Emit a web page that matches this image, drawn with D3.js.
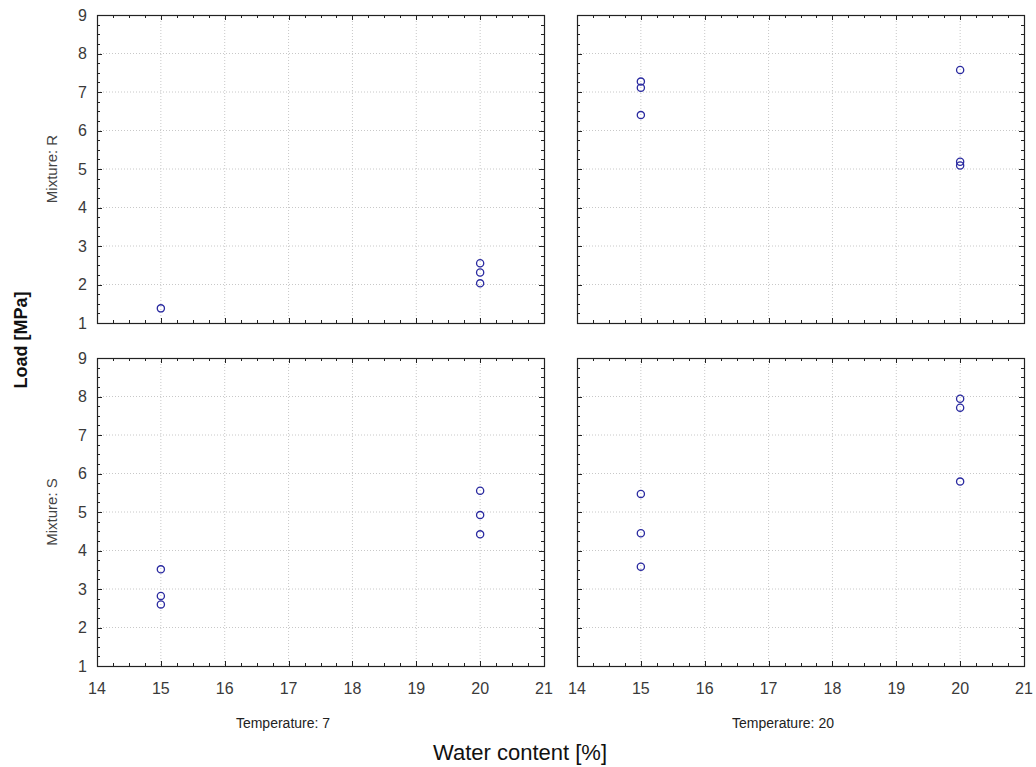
<!DOCTYPE html>
<html>
<head>
<meta charset="utf-8">
<script src="https://cdn.jsdelivr.net/npm/d3@7"></script>
<style>
  body { margin: 0; background: #fff; }
  svg text { font-family: "Liberation Sans", Arial, sans-serif; }
  .grid line { stroke: #c8c8c8; stroke-dasharray: 1,2; }
</style>
</head>
<body>
<div id="main"></div>
<script>
// panel facets
const mixtures = ["R", "S"];
const temperatures = [7, 20];

// load [MPa] per panel, keyed by mixture + temperature
const waterR7 = [15, 20, 20, 20];
const loadR7 = [1.38, 2.55, 2.31, 2.03];
const waterR20 = [15, 15, 15, 20, 20, 20];
const loadR20 = [7.27, 7.11, 6.40, 7.57, 5.19, 5.09];
const waterS7 = [15, 15, 15, 20, 20, 20];
const loadS7 = [3.51, 2.82, 2.60, 5.55, 4.92, 4.42];
const waterS20 = [15, 15, 15, 20, 20, 20];
const loadS20 = [5.47, 4.45, 3.58, 7.94, 7.71, 5.79];

const xTicks = [14, 15, 16, 17, 18, 19, 20, 21];
const yTicks = [1, 2, 3, 4, 5, 6, 7, 8, 9];

const ctx = {
    w: 1036,
    h: 767,
    colX: [97, 577],
    rowY: [15, 358],
    pw: 447,
    ph: 308,
    MAJOR: 5,
    MINOR: 3,
};

const panels = [
    {mix: "R", temp: 7, xs: waterR7, ys: loadR7, col: 0, row: 0},
    {mix: "R", temp: 20, xs: waterR20, ys: loadR20, col: 1, row: 0},
    {mix: "S", temp: 7, xs: waterS7, ys: loadS7, col: 0, row: 1},
    {mix: "S", temp: 20, xs: waterS20, ys: loadS20, col: 1, row: 1},
];

const x = d3.scaleLinear().domain([14, 21]).range([0, ctx.pw]);
const y = d3.scaleLinear().domain([1, 9]).range([ctx.ph, 0]);

const xMinor = d3.range(14, 21.001, 0.25);
const yMinor = d3.range(1, 9.001, 0.25);

function drawPanel(svg, p){
    const g = svg.append("g")
        .attr("transform", `translate(${ctx.colX[p.col]},${ctx.rowY[p.row]})`);

    // dotted grid
    const grid = g.append("g").attr("class", "grid");
    grid.selectAll(".gx").data(xTicks.slice(1, -1)).enter().append("line")
        .attr("x1", d => x(d)).attr("x2", d => x(d))
        .attr("y1", 0).attr("y2", ctx.ph);
    grid.selectAll(".gy").data(yTicks.slice(1, -1)).enter().append("line")
        .attr("y1", d => y(d)).attr("y2", d => y(d))
        .attr("x1", 0).attr("x2", ctx.pw);

    // inward ticks on all four sides
    const tk = g.append("g").attr("stroke", "#222").attr("stroke-width", 1);
    const isMajor = v => Math.abs(v - Math.round(v)) < 1e-6;
    xMinor.forEach(function(v){
        const len = isMajor(v) ? ctx.MAJOR : ctx.MINOR;
        const px = Math.round(x(v)) + 0.5;
        tk.append("line").attr("x1", px).attr("x2", px).attr("y1", ctx.ph).attr("y2", ctx.ph - len);
        tk.append("line").attr("x1", px).attr("x2", px).attr("y1", 0).attr("y2", len);
    });
    yMinor.forEach(function(v){
        const len = isMajor(v) ? ctx.MAJOR : ctx.MINOR;
        const py = Math.round(y(v)) + 0.5;
        tk.append("line").attr("y1", py).attr("y2", py).attr("x1", 0).attr("x2", len);
        tk.append("line").attr("y1", py).attr("y2", py).attr("x1", ctx.pw).attr("x2", ctx.pw - len);
    });

    // frame
    g.append("rect")
        .attr("x", 0.5).attr("y", 0.5)
        .attr("width", ctx.pw).attr("height", ctx.ph)
        .attr("fill", "none").attr("stroke", "#222").attr("stroke-width", 1.2);

    // y tick labels only on left column
    if (p.col === 0){
        g.selectAll(".yl").data(yTicks).enter().append("text")
            .attr("x", -10).attr("y", d => y(d) + 5.5)
            .attr("text-anchor", "end")
            .attr("font-size", 16).attr("fill", "#3a3a3a")
            .text(d => d);
    }
    // x tick labels only on bottom row
    if (p.row === 1){
        g.selectAll(".xl").data(xTicks).enter().append("text")
            .attr("x", d => x(d)).attr("y", ctx.ph + 28)
            .attr("text-anchor", "middle")
            .attr("font-size", 16).attr("fill", "#3a3a3a")
            .text(d => d);
    }

    // points
    const pts = p.xs.map((v, i) => ({wx: v, load: p.ys[i]}));
    g.selectAll("circle").data(pts).enter().append("circle")
        .attr("cx", d => x(d.wx)).attr("cy", d => y(d.load))
        .attr("r", 3.6)
        .attr("fill", "none")
        .attr("stroke", "#2a2aa0")
        .attr("stroke-width", 1.3);
}

function createViz(){
    const svg = d3.select("#main").append("svg")
        .attr("width", ctx.w).attr("height", ctx.h);

    panels.forEach(p => drawPanel(svg, p));

    // row labels
    mixtures.forEach(function(m, i){
        const cy = ctx.rowY[i] + ctx.ph / 2;
        svg.append("text")
            .attr("transform", `translate(57,${cy}) rotate(-90)`)
            .attr("text-anchor", "middle")
            .attr("font-size", 15).attr("fill", "#444")
            .text("Mixture: " + m);
    });

    // column labels
    temperatures.forEach(function(t, i){
        svg.append("text")
            .attr("x", i === 0 ? 283 : 783).attr("y", 728)
            .attr("text-anchor", "middle")
            .attr("font-size", 14).attr("fill", "#222")
            .text("Temperature: " + t);
    });

    svg.append("text")
        .attr("x", 520).attr("y", 760)
        .attr("text-anchor", "middle")
        .attr("font-size", 22).attr("fill", "#111")
        .text("Water content [%]");

    svg.append("text")
        .attr("transform", `translate(27,340) rotate(-90)`)
        .attr("text-anchor", "middle")
        .attr("font-size", 18).attr("font-weight", "bold").attr("fill", "#111")
        .text("Load [MPa]");
}

createViz();
</script>
</body>
</html>
